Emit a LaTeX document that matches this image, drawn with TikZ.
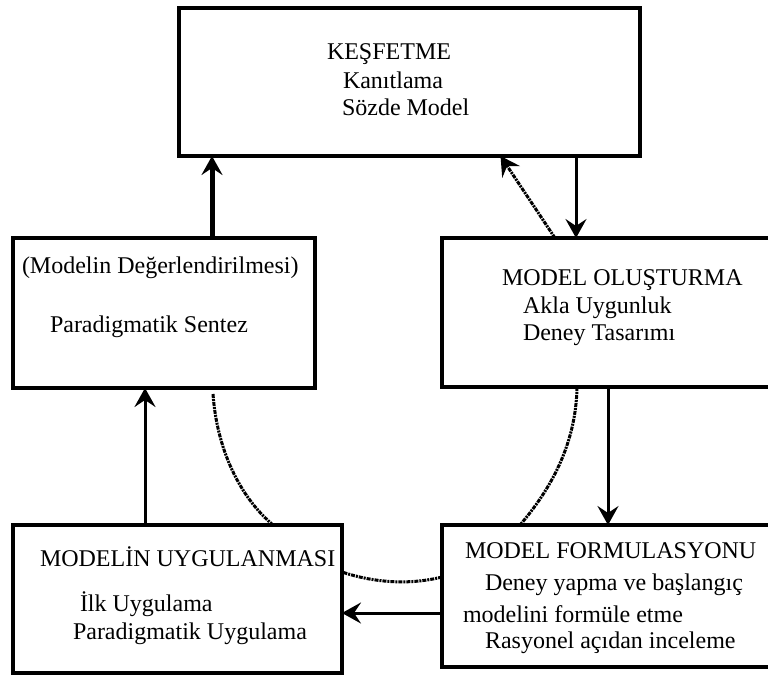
\documentclass[tikz,border=0pt]{standalone}
\usepackage{fontspec}
\setmainfont{Liberation Serif}
\usetikzlibrary{arrows.meta,calc}

\tikzset{
  stagebox/.style={draw, rectangle, line width=3.5pt, inner sep=0pt, outer sep=0pt},
  txt/.style={anchor=base west, inner sep=0pt, outer sep=0pt,
              font=\fontsize{24}{27}\selectfont},
  flow/.style={line width=3pt, -{Stealth[length=19pt,width=21pt,inset=7pt]}},
  thickflow/.style={flow, line width=5pt},
  feedback/.style={line width=3pt, dash pattern=on 4pt off 1pt on 2pt off 1pt},
  feedbackarrow/.style={feedback, -{Stealth[length=19pt,width=21pt,inset=7pt]}}
}

\begin{document}
\begin{tikzpicture}[x=1pt,y=-1pt]
\useasboundingbox (0,0) rectangle (768,675);
\clip (0,0) rectangle (768,675);

% stage boxes
\node[stagebox, minimum width=461pt, minimum height=148pt] (kesfet)  at (409.5,82)  {};
\node[stagebox, minimum width=302pt, minimum height=150pt] (sentez)  at (164,313)   {};
\node[stagebox, minimum width=338pt, minimum height=149pt] (olustur) at (611,312.5) {};
\node[stagebox, minimum width=329pt, minimum height=148pt] (uygula)  at (177.5,599) {};
\node[stagebox, minimum width=338pt, minimum height=142pt] (formul)  at (611,596)   {};

% texts of the stages
\node[txt] (k1) at (327,59)  {KEŞFETME};
\node[txt] (k2) at (343,88)  {Kanıtlama};
\node[txt] (k3) at (342,115) {Sözde Model};

\node[txt] (s1) at (22,273)  {(Modelin Değerlendirilmesi)};
\node[txt] (s2) at (50,332)  {Paradigmatik Sentez};

\node[txt] (o1) at (502,285) {MODEL\ OLUŞTURMA};
\node[txt] (o2) at (523,313) {Akla Uygunluk};
\node[txt] (o3) at (523,340) {Deney Tasarımı};

\node[txt] (u1) at (40,566)  {MODELİN UYGULANMASI};
\node[txt] (u2) at (80,611)  {İlk Uygulama};
\node[txt] (u3) at (73,639)  {Paradigmatik Uygulama};

\node[txt] (f1) at (465,558) {MODEL FORMULASYONU};
\node[txt] (f2) at (485,590) {Deney yapma ve başlangıç};
\node[txt] (f3) at (463,622) {modelini formüle etme};
\node[txt] (f4) at (485,648) {Rasyonel açıdan inceleme};

% main cycle
\draw[thickflow] ([xshift=48pt]sentez.north) -- ([xshift=48pt]sentez.north |- kesfet.south);
\draw[flow] ([xshift=-35pt]olustur.north |- kesfet.south) -- ([xshift=-35pt]olustur.north);
\draw[flow] ([xshift=-3pt]olustur.south) -- ([xshift=-3pt]olustur.south |- formul.north);
\draw[flow] ([yshift=-17pt]formul.west) -- ([yshift=-17pt]formul.west -| uygula.east);
\draw[flow] ([xshift=-32.5pt]uygula.north) -- ([xshift=-32.5pt]uygula.north |- sentez.south);

% feedback paths
\coordinate (a1) at ([xshift=-56pt]olustur.north);
\coordinate (a2) at ([xshift=91pt]kesfet.south);
\draw[feedbackarrow] (a1) -- (a2);

\coordinate (b1) at ([xshift=-34pt]olustur.south);
\coordinate (b2) at ([xshift=-91pt]formul.north);
\draw[feedback] (b1) .. controls ($(b1)+(-1,58)$) and ($(b2)+(30,-35)$) .. (b2);

\coordinate (c1) at ([yshift=19pt]formul.west);
\coordinate (c2) at ([yshift=27pt]uygula.east);
\draw[feedback] (c1) .. controls ($(c1)+(-32,8)$) and ($(c2)+(33,11)$) .. (c2);

\coordinate (d1) at ([xshift=49pt,yshift=-6pt]sentez.south);
\coordinate (d2) at ([xshift=95.5pt]uygula.north);
\draw[feedback] (d1) .. controls ($(d1)+(4,56)$) and ($(d2)+(-33,-28)$) .. (d2);
\end{tikzpicture}
\end{document}
